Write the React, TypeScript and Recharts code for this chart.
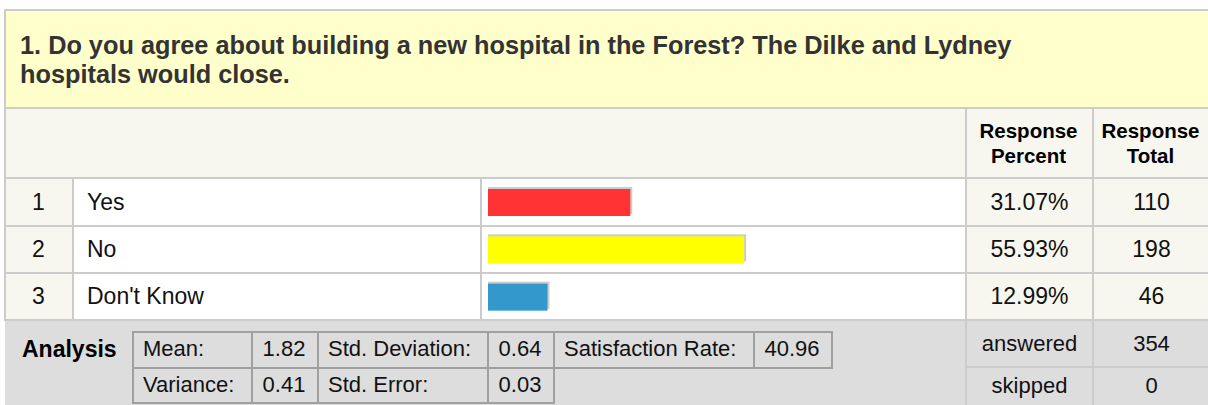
import React from "react";
import { BarChart, Bar, XAxis, YAxis, Cell } from "recharts";

const questionTitle =
  "1. Do you agree about building a new hospital in the Forest? The Dilke and Lydney hospitals would close.";
const categories = ["Yes", "No", "Don't Know"];
const percents = [31.07, 55.93, 12.99];
const totals = [110, 198, 46];
const barColors = ["#FF3333", "#FFFF00", "#3399CC"];

const statLabelsTop = ["Mean:", "Std. Deviation:", "Satisfaction Rate:"];
const statValuesTop = ["1.82", "0.64", "40.96"];
const statLabelsBottom = ["Variance:", "Std. Error:"];
const statValuesBottom = ["0.41", "0.03"];

const summaryLabels = ["answered", "skipped"];
const summaryValues = [354, 0];

const FONT = "Arial, 'Liberation Sans', sans-serif";
const LINE = "#CCCCCC";
const CREAM = "#F7F7EF";

// column edges (x) and row edges (y) of the table
const colX = [5, 72, 480, 965, 1092, 1209];
const rowY = [177, 225, 272, 319];

const chartData = categories.map((c, i) => ({ label: c, value: percents[i] }));

function Box(props: {
  x: number;
  y: number;
  w: number;
  h: number;
  bg?: string;
  align?: "left" | "center" | "right";
  pad?: number;
  style?: React.CSSProperties;
  children?: React.ReactNode;
}) {
  const { x, y, w, h, bg, align = "left", pad = 0, style, children } = props;
  return (
    <div
      style={{
        position: "absolute",
        left: x,
        top: y,
        width: w,
        height: h,
        background: bg,
        display: "flex",
        alignItems: "center",
        justifyContent: align === "left" ? "flex-start" : align === "right" ? "flex-end" : "center",
        paddingLeft: align === "left" ? pad : 0,
        paddingRight: align === "right" ? pad : 0,
        boxSizing: "border-box",
        whiteSpace: "nowrap",
        ...style,
      }}
    >
      {children}
    </div>
  );
}

const HLine = ({ x, y, w, c = LINE, t = 2 }: { x: number; y: number; w: number; c?: string; t?: number }) => (
  <div style={{ position: "absolute", left: x, top: y, width: w, height: t, background: c }} />
);
const VLine = ({ x, y, h, c = LINE, t = 2 }: { x: number; y: number; h: number; c?: string; t?: number }) => (
  <div style={{ position: "absolute", left: x, top: y, width: t, height: h, background: c }} />
);

function ShadowBar(props: any) {
  const { x, y, width, height, fill } = props;
  return (
    <g>
      <rect x={x} y={y - 2} width={width + 2} height={height} fill="#CCCCCC" />
      <rect x={x} y={y} width={width} height={height} fill={fill} />
    </g>
  );
}

export default function App() {
  const statCols = [132, 251, 317, 487, 553, 753, 831];
  const statRows = [331, 367, 402];
  const rowFont = 23;
  const statFont = 22;
  return (
    <div
      style={{
        position: "absolute",
        left: 0,
        top: 0,
        width: 1208,
        height: 405,
        overflow: "hidden",
        background: "#FFFFFF",
        fontFamily: FONT,
        color: "#111111",
      }}
    >
      {/* title */}
      <Box x={5} y={11} w={1211} h={97} bg="#FFFFCC" />
      <div
        style={{
          position: "absolute",
          left: 20,
          top: 31,
          width: 1050,
          fontSize: 25.3,
          lineHeight: "29px",
          fontWeight: "bold",
          color: "#333333",
        }}
      >
        {questionTitle}
      </div>
      <HLine x={4} y={9} w={1212} />
      <HLine x={4} y={107} w={1212} />

      {/* header */}
      <Box x={5} y={109} w={1211} h={68} bg={CREAM} />
      {[
        ["Response", "Percent"],
        ["Response", "Total"],
      ].map((lines, i) => (
        <Box
          key={i}
          x={colX[3 + i]}
          y={109}
          w={colX[4 + i] - colX[3 + i]}
          h={68}
          align="center"
          style={{ flexDirection: "column", fontWeight: "bold", fontSize: 20.5, lineHeight: "25px", color: "#000" }}
        >
          <div>{lines[0]}</div>
          <div>{lines[1]}</div>
        </Box>
      ))}
      <VLine x={colX[3]} y={109} h={68} />
      <VLine x={colX[4]} y={109} h={68} />

      {/* answer rows */}
      {categories.map((c, i) => {
        const y = rowY[i] + 2;
        const h = rowY[i + 1] - rowY[i] - 2;
        return (
          <React.Fragment key={c}>
            <Box x={colX[0]} y={y} w={colX[1] - colX[0]} h={h} bg={CREAM} align="center" style={{ fontSize: rowFont }}>
              {i + 1}
            </Box>
            <Box x={colX[1] + 2} y={y} w={colX[2] - colX[1] - 2} h={h} bg="#FFFFFF" pad={13} style={{ fontSize: rowFont }}>
              {c}
            </Box>
            <Box x={colX[2] + 2} y={y} w={colX[3] - colX[2] - 2} h={h} bg="#FFFFFF" />
            <Box x={colX[3] + 2} y={y} w={colX[4] - colX[3] - 2} h={h} bg={CREAM} align="center" style={{ fontSize: rowFont }}>
              {percents[i].toFixed(2)}%
            </Box>
            <Box x={colX[4] + 2} y={y} w={colX[5] - colX[4] - 2} h={h} bg={CREAM} align="center" style={{ fontSize: rowFont }}>
              {totals[i]}
            </Box>
          </React.Fragment>
        );
      })}
      {rowY.map((y) => (
        <HLine key={y} x={4} y={y} w={1212} />
      ))}
      {colX.slice(1, 5).map((x) => (
        <VLine key={x} x={x} y={rowY[0]} h={rowY[3] - rowY[0]} />
      ))}
      <VLine x={4} y={9} h={311} />

      {/* bars */}
      <div style={{ position: "absolute", left: colX[2], top: rowY[0] + 2 }}>
        <BarChart
          width={colX[3] - colX[2]}
          height={rowY[3] - rowY[0]}
          data={chartData}
          layout="vertical"
          margin={{ top: 0, right: 19, bottom: 0, left: 8 }}
        >
          <XAxis type="number" domain={[0, 100]} hide />
          <YAxis type="category" dataKey="label" hide />
          <Bar dataKey="value" barSize={27} shape={ShadowBar} isAnimationActive={false}>
            {chartData.map((d, i) => (
              <Cell key={d.label} fill={barColors[i]} />
            ))}
          </Bar>
        </BarChart>
      </div>

      {/* analysis */}
      <Box x={5} y={321} w={colX[3] - 5} h={84} bg="#DDDDDD" />
      <Box x={22} y={331} w={110} h={36} style={{ fontWeight: "bold", fontSize: 23, color: "#000" }}>
        Analysis
      </Box>
      {statLabelsTop.map((l, i) => (
        <React.Fragment key={l}>
          <Box x={statCols[i * 2]} y={statRows[0]} w={statCols[i * 2 + 1] - statCols[i * 2]} h={36} pad={11} style={{ fontSize: statFont }}>
            {l}
          </Box>
          <Box x={statCols[i * 2 + 1]} y={statRows[0]} w={statCols[i * 2 + 2] - statCols[i * 2 + 1]} h={36} align="center" style={{ fontSize: statFont }}>
            {statValuesTop[i]}
          </Box>
        </React.Fragment>
      ))}
      {statLabelsBottom.map((l, i) => (
        <React.Fragment key={l}>
          <Box x={statCols[i * 2]} y={statRows[1]} w={statCols[i * 2 + 1] - statCols[i * 2]} h={36} pad={11} style={{ fontSize: statFont }}>
            {l}
          </Box>
          <Box x={statCols[i * 2 + 1]} y={statRows[1]} w={statCols[i * 2 + 2] - statCols[i * 2 + 1]} h={36} align="center" style={{ fontSize: statFont }}>
            {statValuesBottom[i]}
          </Box>
        </React.Fragment>
      ))}
      <HLine x={statCols[0]} y={statRows[0]} w={statCols[6] - statCols[0]} c="#A0A0A0" />
      <HLine x={statCols[0]} y={statRows[1]} w={statCols[6] - statCols[0]} c="#A0A0A0" />
      <HLine x={statCols[0]} y={statRows[2]} w={statCols[4] - statCols[0]} c="#A0A0A0" />
      {statCols.map((x, i) => (
        <VLine key={x} x={x} y={statRows[0]} h={(i <= 4 ? statRows[2] : statRows[1]) - statRows[0] + 2} c="#A0A0A0" />
      ))}

      {/* summary */}
      {summaryLabels.map((l, i) => {
        const y = i === 0 ? 321 : 367;
        const h = i === 0 ? 45 : 38;
        return (
          <React.Fragment key={l}>
            <Box x={colX[3] + 2} y={y} w={colX[4] - colX[3] - 2} h={h} bg="#DDDDDD" align="center" style={{ fontSize: statFont }}>
              {l}
            </Box>
            <Box x={colX[4] + 2} y={y} w={colX[5] - colX[4] - 2} h={h} bg="#DDDDDD" align="center" style={{ fontSize: statFont }}>
              {summaryValues[i]}
            </Box>
          </React.Fragment>
        );
      })}
      <HLine x={colX[3]} y={366} w={300} />
      <VLine x={colX[3]} y={321} h={84} />
      <VLine x={colX[4]} y={321} h={84} />
    </div>
  );
}
